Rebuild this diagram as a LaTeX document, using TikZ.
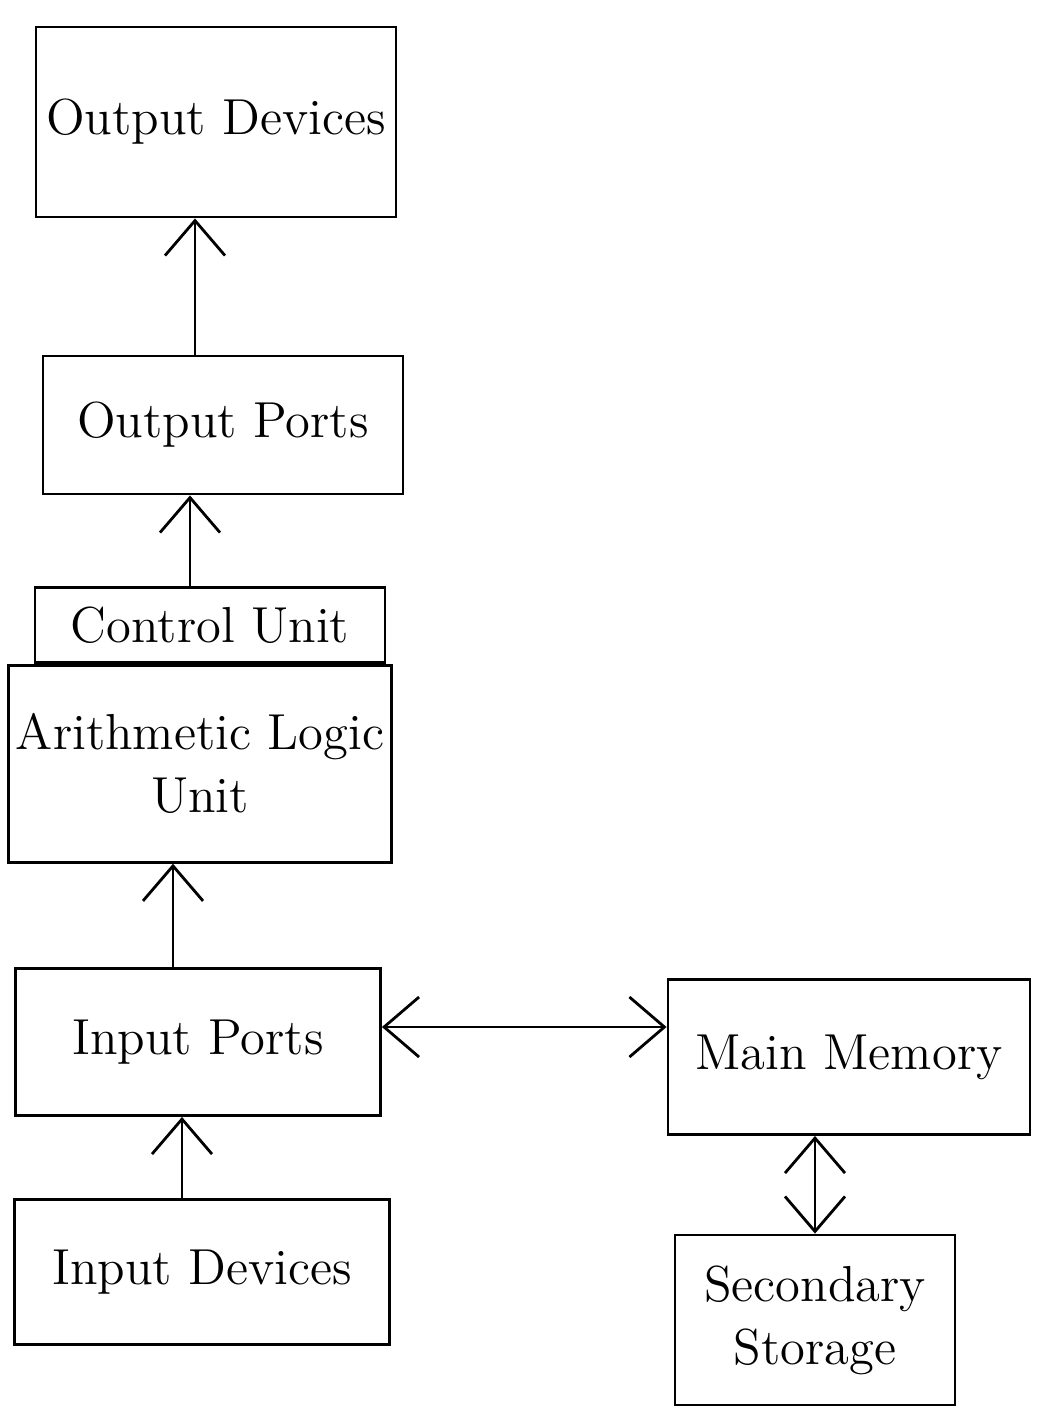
\documentclass[tikz,border=0pt]{standalone}
\usepackage{tikz}
\usetikzlibrary{arrows.meta,positioning}

\tikzset{
    unitbox/.style={draw, thick, align=center, font=\Large, inner sep=2pt},
    flow/.style={thick, -{Straight Barb[length=3.5mm,width=6mm]}},
    dualflow/.style={thick, {Straight Barb[length=3.5mm,width=6mm]}-{Straight Barb[length=3.5mm,width=6mm]}}
}

\begin{document}
\begin{tikzpicture}

    \useasboundingbox (0,0) rectangle (10.37,-14.16);

    % Ausgabe
    \node[unitbox, minimum width=3.6cm, minimum height=1.9cm]
        (outdev) at (2.16,-1.22) {Output Devices};
    \node[unitbox, minimum width=3.6cm, minimum height=1.38cm]
        (outport) at (2.23,-4.25) {Output Ports};

    % Prozessor
    \node[unitbox, minimum width=3.5cm, minimum height=0.75cm]
        (cu) at (2.1,-6.25) {Control Unit};
    \node[unitbox, minimum width=3.7cm, minimum height=1.97cm,
        below=0pt of cu, xshift=-0.1cm]
        (alu) {Arithmetic Logic\\Unit};

    % Eingabe
    \node[unitbox, minimum width=3.65cm, minimum height=1.47cm]
        (inport) at (1.98,-10.42) {Input Ports};
    \node[unitbox, minimum width=3.75cm, minimum height=1.45cm]
        (indev) at (2.02,-12.72) {Input Devices};

    % Speicher
    \node[unitbox, minimum width=3.62cm, minimum height=1.55cm]
        (mainmem) at (8.49,-10.57) {Main Memory};
    \node[unitbox, minimum width=2.8cm, minimum height=1.7cm]
        (secstor) at (8.15,-13.2) {Secondary\\Storage};

    % Verbindungen
    \draw[flow] ([xshift=-0.28cm]outport.north)
        -- ([xshift=-0.28cm]outport.north |- outdev.south);
    \draw[flow] ([xshift=-0.2cm]cu.north)
        -- ([xshift=-0.2cm]cu.north |- outport.south);
    \draw[flow] ([xshift=-0.25cm]inport.north)
        -- ([xshift=-0.25cm]inport.north |- alu.south);
    \draw[flow] ([xshift=-0.2cm]indev.north)
        -- ([xshift=-0.2cm]indev.north |- inport.south);
    \draw[dualflow] ([yshift=0.15cm]inport.east)
        -- ([yshift=0.15cm]inport.east -| mainmem.west);
    \draw[dualflow] (secstor.north) -- (secstor.north |- mainmem.south);

\end{tikzpicture}
\end{document}
